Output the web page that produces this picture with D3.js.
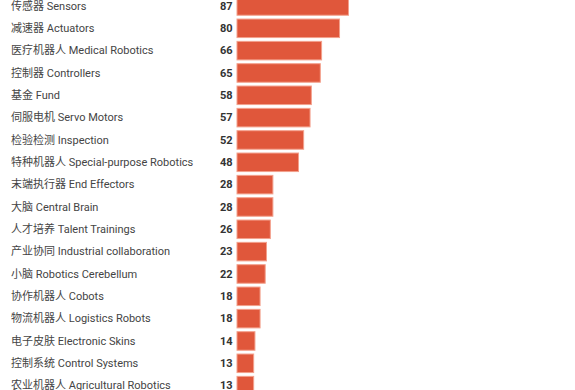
<!doctype html>
<html>
<head>
  <meta charset="utf-8">
  <title>Bar chart</title>
  <script src="https://d3js.org/d3.v7.min.js"></script>
  <style>
    body { margin: 0; background: #fff; }
    .label { font-family: Roboto, "Noto Sans CJK SC", sans-serif; font-size: 11px; fill: #444; }
    .value { font-family: Roboto, "Noto Sans CJK SC", sans-serif; font-size: 11px; font-weight: bold; fill: #333; }
    .bar { fill: #e0573b; stroke: #f3a08c; stroke-width: 1; }
  </style>
</head>
<body>
  <div id="chart"></div>
  <script>
    // categories and counts, top to bottom
    var categories = [
      "传感器 Sensors", "减速器 Actuators", "医疗机器人 Medical Robotics", "控制器 Controllers",
      "基金 Fund", "伺服电机 Servo Motors", "检验检测 Inspection", "特种机器人 Special-purpose Robotics",
      "末端执行器 End Effectors", "大脑 Central Brain", "人才培养 Talent Trainings",
      "产业协同 Industrial collaboration", "小脑 Robotics Cerebellum", "协作机器人 Cobots",
      "物流机器人 Logistics Robots", "电子皮肤 Electronic Skins", "控制系统 Control Systems",
      "农业机器人 Agricultural Robotics"
    ];
    var counts = [87, 80, 66, 65, 58, 57, 52, 48, 28, 28, 26, 23, 22, 18, 18, 14, 13, 13];

    var width = 575;
    var height = 390;

    var svg = d3.select("#chart")
      .append("svg")
      .attr("width", width)
      .attr("height", height);

    var x = d3.scaleLinear()
      .domain([0, 87])
      .range([237, 348.5]);

    // rows run a bit past the window at the bottom
    var y = d3.scaleBand()
      .domain(categories)
      .range([-5.2, 396.8])
      .paddingInner(0.17)
      .paddingOuter(0.085);

    var rows = svg.selectAll("g.row")
      .data(categories)
      .enter()
      .append("g")
      .attr("class", "row");

    rows.append("rect")
      .attr("class", "bar")
      .attr("x", x(0))
      .attr("y", function(d) { return y(d); })
      .attr("height", y.bandwidth())
      .attr("width", function(d, i) { return x(counts[i]) - x(0); });

    rows.append("text")
      .attr("class", "label")
      .attr("x", 11)
      .attr("y", function(d) { return y(d) + y.bandwidth() / 2; })
      .attr("dy", "0.35em")
      .text(function(d) { return d; });

    rows.append("text")
      .attr("class", "value")
      .attr("x", 232.5)
      .attr("y", function(d) { return y(d) + y.bandwidth() / 2; })
      .attr("dy", "0.35em")
      .attr("text-anchor", "end")
      .text(function(d, i) { return counts[i]; });
  </script>
</body>
</html>
